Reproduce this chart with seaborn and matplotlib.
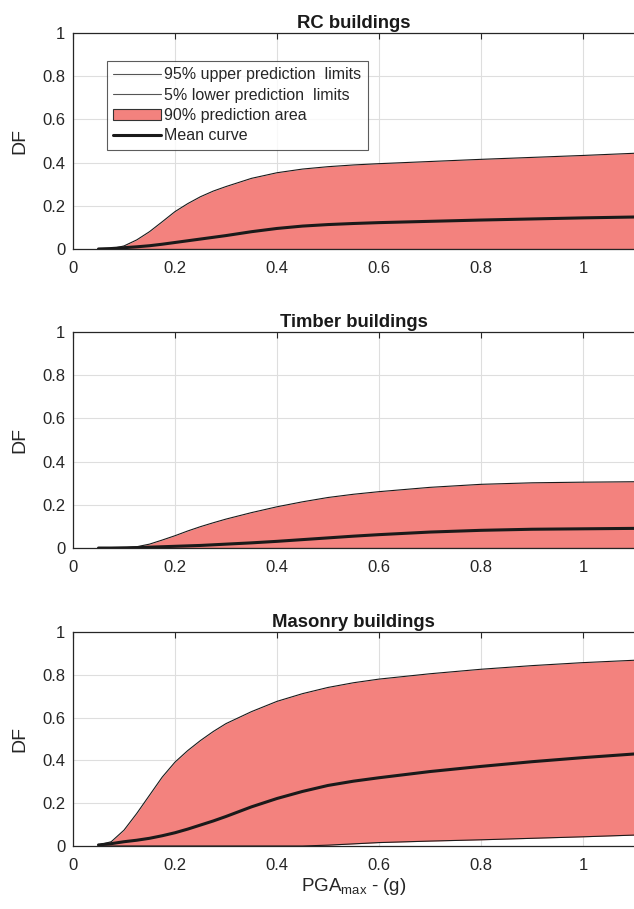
import numpy as np
import pandas as pd
import matplotlib
matplotlib.use("Agg")
import matplotlib.pyplot as plt
import seaborn as sns
from matplotlib.lines import Line2D
from matplotlib.patches import Patch

# ---- data ----
pga = [0.05, 0.075, 0.1, 0.125, 0.15, 0.175, 0.2, 0.225, 0.25, 0.275, 0.3,
       0.35, 0.4, 0.45, 0.5, 0.55, 0.6, 0.7, 0.8, 0.9, 1.0, 1.1]

rc_upper = [0.0, 0.001, 0.014, 0.042, 0.080, 0.126, 0.173, 0.210, 0.242, 0.268, 0.289,
            0.327, 0.353, 0.370, 0.381, 0.389, 0.395, 0.405, 0.415, 0.424, 0.433, 0.443]
rc_mean = [0.0, 0.002, 0.006, 0.010, 0.015, 0.022, 0.030, 0.038, 0.046, 0.054, 0.062,
           0.080, 0.095, 0.106, 0.113, 0.118, 0.122, 0.128, 0.134, 0.139, 0.144, 0.148]
rc_lower = [0.0] * 22

tim_upper = [0.0, 0.0, 0.001, 0.006, 0.018, 0.037, 0.057, 0.079, 0.099, 0.117, 0.134,
             0.164, 0.191, 0.214, 0.234, 0.249, 0.261, 0.281, 0.295, 0.302, 0.305, 0.307]
tim_mean = [0.0, 0.0, 0.001, 0.002, 0.004, 0.006, 0.008, 0.010, 0.012, 0.015, 0.018,
            0.024, 0.031, 0.039, 0.047, 0.055, 0.062, 0.074, 0.082, 0.087, 0.089, 0.091]
tim_lower = [0.0] * 22

mas_upper = [0.005, 0.020, 0.074, 0.152, 0.237, 0.322, 0.392, 0.446, 0.493, 0.535, 0.572,
             0.628, 0.676, 0.712, 0.741, 0.763, 0.780, 0.805, 0.826, 0.843, 0.857, 0.868]
mas_mean = [0.005, 0.011, 0.020, 0.027, 0.036, 0.048, 0.062, 0.079, 0.098, 0.117, 0.138,
            0.183, 0.222, 0.255, 0.283, 0.303, 0.319, 0.348, 0.372, 0.394, 0.413, 0.430]
mas_lower = [0.0, 0.0, 0.0, 0.0, 0.0, 0.0, 0.0, 0.0, 0.0, 0.0, 0.0,
             0.0, 0.0, 0.0, 0.004, 0.010, 0.016, 0.023, 0.029, 0.036, 0.043, 0.051]

titles = ["RC buildings", "Timber buildings", "Masonry buildings"]
series = [(rc_upper, rc_mean, rc_lower), (tim_upper, tim_mean, tim_lower), (mas_upper, mas_mean, mas_lower)]
xticks = [0, 0.2, 0.4, 0.6, 0.8, 1.0]
xticklabels = ["0", "0.2", "0.4", "0.6", "0.8", "1"]
yticks = [0, 0.2, 0.4, 0.6, 0.8, 1.0]
yticklabels = ["0", "0.2", "0.4", "0.6", "0.8", "1"]
legend_labels = ["95% upper prediction  limits", "5% lower prediction  limits",
                 "90% prediction area", "Mean curve"]

sns.set_style("white")
plt.rcParams['font.family'] = ['Liberation Sans', 'DejaVu Sans']
plt.rcParams['mathtext.fontset'] = 'custom'
plt.rcParams['mathtext.rm'] = 'Liberation Sans'
plt.rcParams['mathtext.it'] = 'Liberation Sans:italic'
plt.rcParams['mathtext.bf'] = 'Liberation Sans:bold'

FILL = "#F3827E"
TXT = "#262626"
fig = plt.figure(figsize=(6.34, 9.09), dpi=100)
boxes = [(0.1151, 0.7261, 0.8849, 0.2376),
         (0.1151, 0.3971, 0.8849, 0.2376),
         (0.1151, 0.0693, 0.8849, 0.2354)]

for i, (box, title, (up, mn, lo)) in enumerate(zip(boxes, titles, series)):
    ax = fig.add_axes(box)
    df = pd.DataFrame({"PGA": pga, "upper": up, "mean": mn, "lower": lo})
    ax.fill_between(df["PGA"], df["lower"], df["upper"], color=FILL, lw=0, zorder=2)
    sns.lineplot(data=df, x="PGA", y="upper", ax=ax, color="#1a1a1a", lw=0.8, zorder=3)
    sns.lineplot(data=df, x="PGA", y="lower", ax=ax, color="#1a1a1a", lw=0.8, zorder=3)
    sns.lineplot(data=df, x="PGA", y="mean", ax=ax, color="#1a1a1a", lw=2.2, zorder=4)
    ax.set_xlim(0, 1.1)
    ax.set_ylim(0, 1)
    ax.set_xticks(xticks)
    ax.set_xticklabels(xticklabels)
    ax.set_yticks(yticks)
    ax.set_yticklabels(yticklabels)
    ax.grid(True, color="#dedede", lw=0.8, zorder=0)
    ax.set_axisbelow(True)
    ax.tick_params(direction="in", top=True, right=False, length=4, width=0.8,
                   colors=TXT, labelsize=12)
    ax.tick_params(axis="x", pad=8.5)
    ax.tick_params(axis="y", pad=5.5)
    for s in ["left", "bottom", "top"]:
        ax.spines[s].set_color(TXT)
        ax.spines[s].set_linewidth(0.9)
    ax.spines["right"].set_visible(False)
    ax.set_ylabel("DF", fontsize=14, color=TXT, labelpad=10)
    ax.set_title(title, fontsize=13.3, fontweight="bold", color="#1a1a1a", pad=3.5)
    if i == 2:
        ax.set_xlabel(r"PGA$_{\mathrm{max}}$ - (g)", fontsize=13.5, color=TXT, labelpad=2)
    else:
        ax.set_xlabel("")
    if i == 0:
        handles = [Line2D([], [], color="#555555", lw=0.8),
                   Line2D([], [], color="#555555", lw=0.8),
                   Patch(facecolor=FILL, edgecolor="#333333", lw=0.8),
                   Line2D([], [], color="#1a1a1a", lw=2.2)]
        leg = ax.legend(handles, legend_labels, loc="upper left", bbox_to_anchor=(0.06, 0.87),
                        fontsize=11.5, frameon=True, fancybox=False, handlelength=3.0,
                        handletextpad=0.2, borderpad=0.4, labelspacing=0.33,
                        borderaxespad=0)
        leg.get_frame().set_edgecolor("#333333")
        leg.get_frame().set_linewidth(0.8)
        leg.set_zorder(10)

fig.savefig("out.png", dpi=100)
